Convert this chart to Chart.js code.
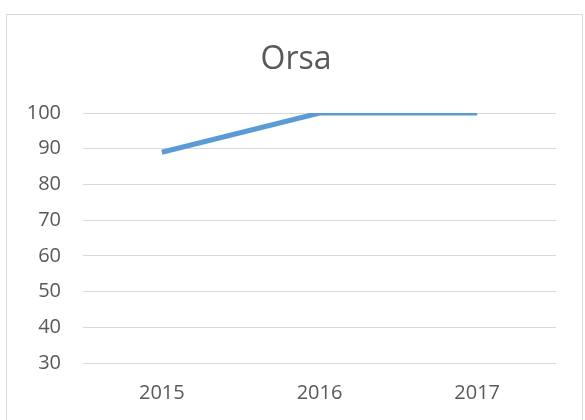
<!DOCTYPE html>
<html><head><meta charset="utf-8">
<script src="https://cdn.jsdelivr.net/npm/chart.js@4"></script>
<style>
html,body{margin:0;padding:0;background:#fff;}
#wrap{position:relative;width:585px;height:420px;overflow:hidden;}
#frame{position:absolute;left:6px;top:14px;width:577px;height:420px;border:1px solid #d9d9d9;box-sizing:border-box;}
canvas{position:absolute;left:0;top:0;}
</style></head>
<body>
<div id="wrap"><div id="frame"></div><canvas id="c" width="585" height="420"></canvas></div>
<script>
const title = "Orsa";
const categories = ["2015", "2016", "2017"];
const values = [89, 100, 100];
const yMin = 30, yMax = 100, yStep = 10;

const centeredTitle = {
  id: 'centeredTitle',
  afterDraw(chart) {
    const ctx = chart.ctx;
    ctx.save();
    ctx.font = 'normal 32px "Open Sans"';
    ctx.fillStyle = '#595959';
    ctx.textAlign = 'center';
    ctx.textBaseline = 'alphabetic';
    ctx.fillText(title, 296, 69);
    ctx.restore();
  }
};

new Chart(document.getElementById('c'), {
  type: 'line',
  data: {
    labels: categories,
    datasets: [{
      data: values,
      borderColor: '#5b9bd5',
      borderWidth: 5,
      pointRadius: 0,
      tension: 0,
      fill: false,
      borderCapStyle: 'butt'
    }]
  },
  plugins: [centeredTitle],
  options: {
    responsive: false,
    animation: false,
    layout: { padding: { left: 0, right: 29, top: 113, bottom: 0 } },
    plugins: {
      legend: { display: false },
      tooltip: { enabled: false },
      title: { display: false }
    },
    scales: {
      x: {
        offset: true,
        grid: { display: false, drawTicks: false },
        border: { display: false },
        ticks: { color: '#595959', font: { family: 'Open Sans', size: 20 }, padding: 18 },
        afterFit: s => { s.height = 57; }
      },
      y: {
        min: yMin, max: yMax,
        grid: { color: '#d9d9d9', lineWidth: 1, drawTicks: false },
        border: { display: false },
        ticks: { stepSize: yStep, color: '#595959', font: { family: 'Open Sans', size: 20 }, padding: 22 },
        afterFit: s => { s.width = 83; }
      }
    }
  }
});
</script>
</body></html>
